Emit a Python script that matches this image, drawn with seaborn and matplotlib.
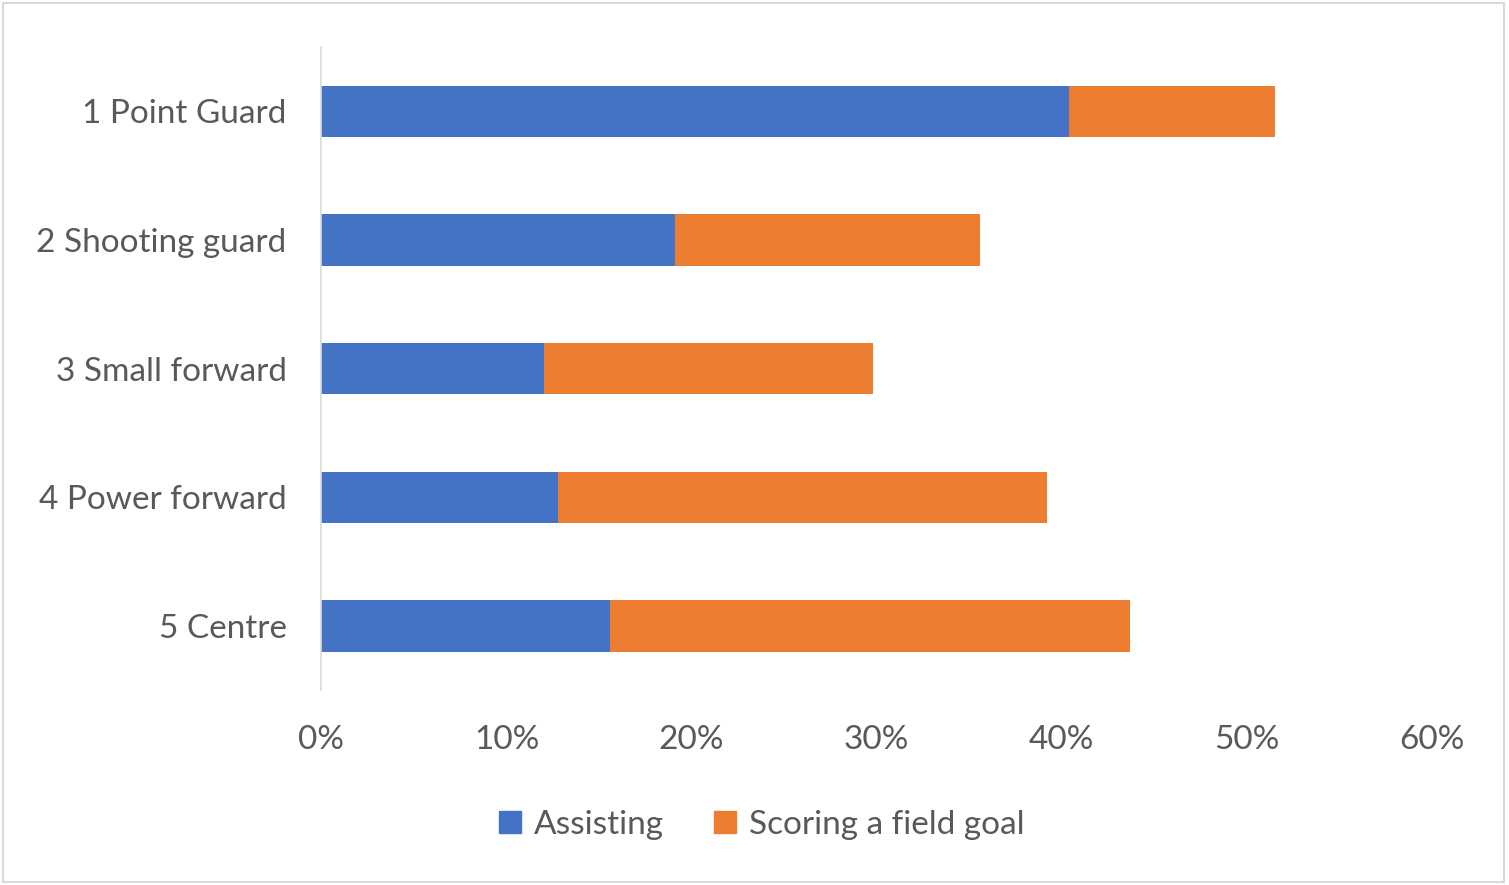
import pandas as pd
import matplotlib.pyplot as plt
import matplotlib.patches as mpatches
import seaborn as sns

# values (percent)
positions = ['1 Point Guard', '2 Shooting guard', '3 Small forward', '4 Power forward', '5 Centre']
assisting = [40.4, 19.1, 12.0, 12.8, 15.6]
scoring = [11.1, 16.5, 17.8, 26.4, 28.1]
xticks = [0, 10, 20, 30, 40, 50, 60]

blue = '#4472c4'
orange = '#ed7d31'
grey = '#595959'

df = pd.DataFrame({'position': positions, 'Assisting': assisting, 'Scoring': scoring})
df['total'] = df['Assisting'] + df['Scoring']

sns.set_style('white')
plt.rcParams['font.family'] = ['Lato', 'DejaVu Sans']

fig = plt.figure(figsize=(15.09, 8.85), dpi=100)
ax = fig.add_axes([0.213, 0.220, 0.736, 0.727])

# stacked bars: draw total in orange, assisting part in blue over it
sns.barplot(data=df, y='position', x='total', color=orange, width=0.4,
            saturation=1, orient='h', linewidth=0, ax=ax)
sns.barplot(data=df, y='position', x='Assisting', color=blue, width=0.4,
            saturation=1, orient='h', linewidth=0, ax=ax)

ax.set_xlim(0, 60)
ax.set_ylim(4.5, -0.5)
ax.set_xticks(xticks)
ax.set_xticklabels([f'{t}%' for t in xticks])
ax.set_xlabel('')
ax.set_ylabel('')
ax.tick_params(axis='both', length=0, labelsize=24, colors=grey)
ax.tick_params(axis='y', pad=25)
ax.tick_params(axis='x', pad=25)
for s in ['top', 'right', 'bottom']:
    ax.spines[s].set_visible(False)
ax.spines['left'].set_color('#d9d9d9')
ax.spines['left'].set_linewidth(1.2)

handles = [mpatches.Patch(color=blue, label='Assisting'),
           mpatches.Patch(color=orange, label='Scoring a field goal')]
fig.legend(handles=handles, loc='center', bbox_to_anchor=(0.505, 0.068), ncol=2,
           frameon=False, fontsize=24, labelcolor=grey, handlelength=0.65,
           handleheight=0.65, handletextpad=0.4, columnspacing=1.5)

# light frame around the whole chart
fig.patches.append(mpatches.Rectangle((0.002, 0.003), 0.995, 0.994, transform=fig.transFigure,
                                      fill=False, edgecolor='#d9d9d9', linewidth=1.5))

fig.savefig('out.png', dpi=100)
